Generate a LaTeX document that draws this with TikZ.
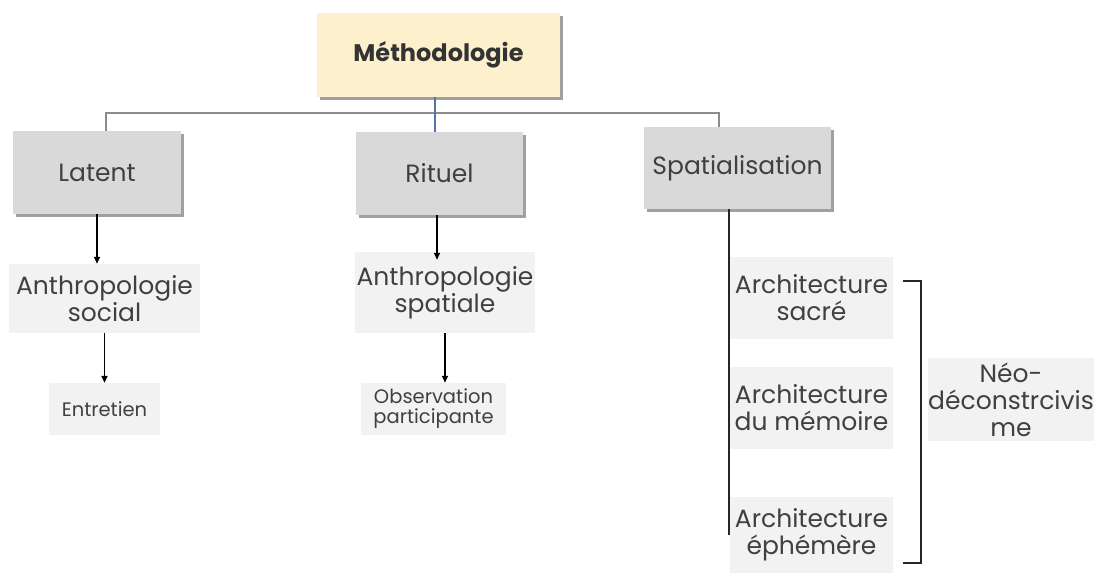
\documentclass[tikz,border=0pt]{standalone}
\usepackage{fontspec}
\setmainfont{Poppins}
\usetikzlibrary{arrows.meta,shadows}
\definecolor{txt}{HTML}{404040}
\definecolor{boxgray}{HTML}{D9D9D9}
\definecolor{boxlight}{HTML}{F2F2F2}
\definecolor{boxyellow}{HTML}{FDF1CD}
\definecolor{shadowgray}{HTML}{A0A0A0}
\definecolor{treegray}{HTML}{8C8C8C}
\definecolor{treeblue}{HTML}{5673A6}
\tikzset{
  base/.style={inner sep=0pt, align=center, text=txt, font=\fontsize{25}{27}\selectfont},
  mainbox/.style={base, fill=boxgray, drop shadow={shadow xshift=3pt, shadow yshift=-3pt, fill=shadowgray, opacity=1}},
  topbox/.style={base, fill=boxyellow, text=black!80, font=\fontsize{24}{27}\selectfont\bfseries, drop shadow={shadow xshift=3pt, shadow yshift=-3pt, fill=shadowgray, opacity=1}},
  subbox/.style={base, fill=boxlight},
  smallbox/.style={base, fill=boxlight, font=\fontsize{19.5}{20}\selectfont},
  treeline/.style={draw=treegray, line width=1.1pt},
  treelineb/.style={draw=treeblue, line width=1.1pt},
  arr/.style={draw=black, line width=1.4pt, -{Triangle[length=7pt,width=6pt]}},
  thickline/.style={draw=black!85, line width=2pt},
  bracketline/.style={draw=black!85, line width=2pt}
}
\begin{document}
\begin{tikzpicture}[x=1pt,y=-1pt]
\useasboundingbox (0,0) rectangle (1094,574);
% nodes
\node[topbox, minimum width=243pt, minimum height=84pt] (meth) at (438.5,55) {Méthodologie};
\node[mainbox, minimum width=168pt, minimum height=83pt] (latent) at (97,172.5) {Latent};
\node[mainbox, minimum width=167pt, minimum height=83pt] (rituel) at (439.5,173.5) {Rituel};
\node[mainbox, minimum width=187pt, minimum height=82pt] (spat) at (737.5,168) {Spatialisation};
\node[subbox, minimum width=191pt, minimum height=69pt] (soc) at (104.5,298.5) {Anthropologie\\social};
\node[subbox, minimum width=180pt, minimum height=81pt] (spa) at (445,292.5) {Anthropologie\\spatiale};
\node[smallbox, minimum width=111pt, minimum height=52pt] (ent) at (104.5,409) {Entretien};
\node[smallbox, minimum width=145pt, minimum height=52pt] (obs) at (433.5,409) {Observation\\participante};
\node[subbox, minimum width=163pt, minimum height=82pt] (a1) at (811.5,298) {Architecture\\sacré};
\node[subbox, minimum width=163pt, minimum height=82pt] (a2) at (811.5,408) {Architecture\\du mémoire};
\node[subbox, minimum width=163pt, minimum height=76pt] (a3) at (811.5,535) {Architecture\\éphémère};
\node[subbox, minimum width=164pt, minimum height=83pt] (neo) at (1011,399.5) {Néo-\\déconstrcivis\\me};
% tree connectors
\coordinate (hl) at (106,113);
\coordinate (hr) at (719,113);
\coordinate (mx) at (435,113);
\draw[treeline] (latent.north -| hl) -- (hl) -- (hr) -- (spat.north -| hr);
\draw[treelineb] (meth.south -| mx) -- (rituel.north -| mx);
% arrows
\draw[arr] (latent.south) -- (latent.south |- soc.north);
\draw[arr] (soc.south) -- (soc.south |- ent.north);
\coordinate (rx) at (437,0);
\draw[arr, shorten >=-8pt] (rituel.south -| rx) -- (spa.north -| rx);
\draw[arr] (spa.south) -- (spa.south |- obs.north);
% spatialisation line
\coordinate (vend) at (729,535);
\draw[thickline] (spat.south -| vend) -- (vend);
% bracket
\coordinate (bt) at (903,281);
\coordinate (bb) at (903,563);
\draw[bracketline] (bt) -- ++(18,0) |- (bb);
\end{tikzpicture}
\end{document}
